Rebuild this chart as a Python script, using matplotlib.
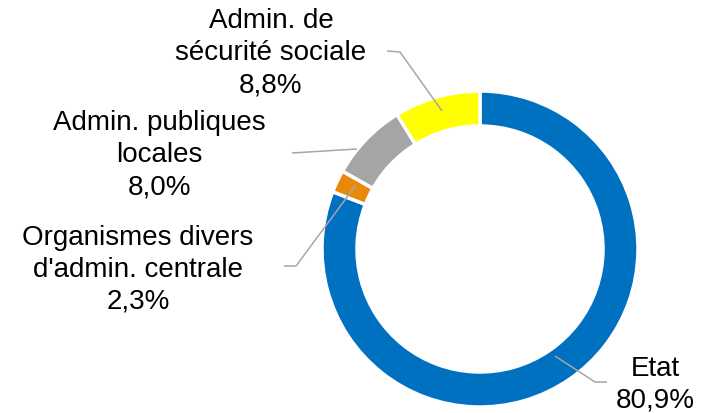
import matplotlib.pyplot as plt

plt.rcParams["font.family"] = ["Liberation Sans", "DejaVu Sans"]

labels = ["Etat", "Organismes divers\nd'admin. centrale", "Admin. publiques\nlocales",
          "Admin. de\nsécurité sociale"]
shares = [80.9, 2.3, 8.0, 8.8]
colors = ["#0070C0", "#E8890C", "#A5A5A5", "#FFFF00"]

W, H = 701, 414


def fy(y):
    # pixel row (from top) -> data y
    return H - y


# label centre and leader path, in pixel coordinates
label_pos = [(655, 385), (138, 270), (159, 155), (271, 53)]
leaders = [
    [(555, 357), (595, 383), (607, 383)],
    [(356, 186), (296, 267), (284, 267)],
    [(357, 150), (292, 154)],
    [(442, 112), (400, 53), (387, 52)],
]

fig = plt.figure(figsize=(W / 100, H / 100), dpi=100)
ax = fig.add_axes([0, 0, 1, 1])

ax.pie(shares, colors=colors, startangle=90, counterclock=False,
       center=(480, fy(250)), radius=158, frame=True,
       wedgeprops=dict(width=35, edgecolor="white", linewidth=2.5))
ax.set_xlim(0, W)
ax.set_ylim(0, H)
ax.axis("off")

for lab, val, (lx, ly), path in zip(labels, shares, label_pos, leaders):
    xs = [p[0] for p in path]
    ys = [fy(p[1]) for p in path]
    ax.plot(xs, ys, color="#A6A6A6", lw=1.1, solid_capstyle="butt")
    txt = lab + "\n" + f"{val:.1f}".replace(".", ",") + "%"
    ax.text(lx, fy(ly), txt, ha="center", va="center", fontsize=20,
            linespacing=1.3, color="black")

fig.savefig("out.png", dpi=100)
